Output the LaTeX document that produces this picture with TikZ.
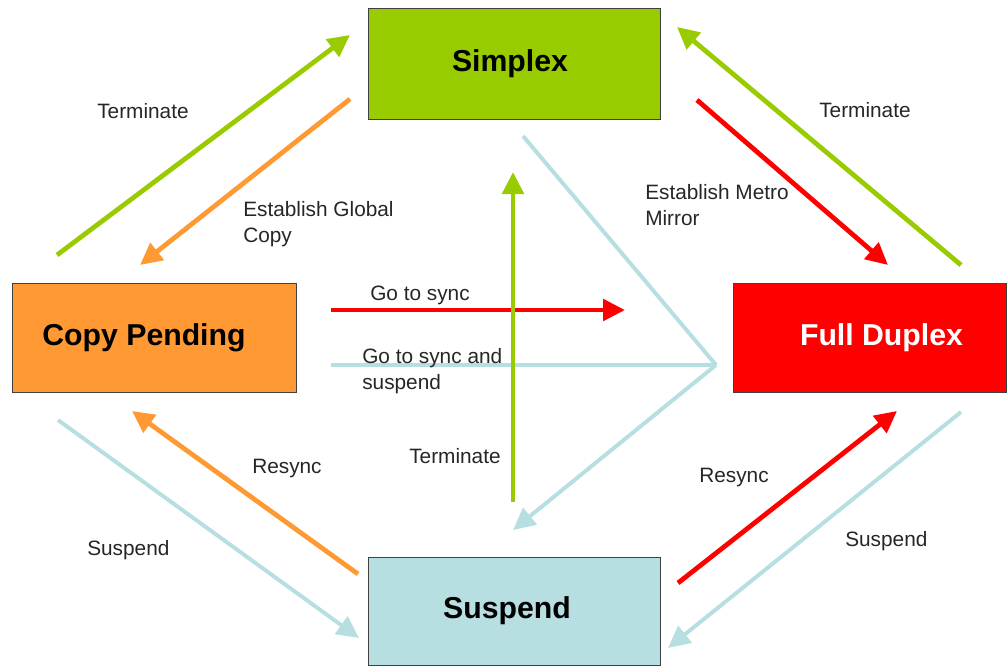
\documentclass[tikz,border=0pt]{standalone}
\usepackage{fontspec}
\setmainfont{Liberation Sans}
\usetikzlibrary{arrows.meta}

\definecolor{simplexgreen}{RGB}{153,204,0}
\definecolor{pendingorange}{RGB}{255,153,51}
\definecolor{duplexred}{RGB}{255,0,0}
\definecolor{suspendblue}{RGB}{183,222,224}

\begin{document}
\begin{tikzpicture}[
        x=0.25mm, y=-0.25mm,
        estado/.style={rectangle, draw=black!75, line width=0.6pt, font=\fontsize{21.5}{25}\selectfont\bfseries, inner sep=0pt},
        rotulo/.style={font=\fontsize{14.8}{18.4}\selectfont, inner sep=0pt, align=left, text=black!85},
        seta/.style={-{Triangle[length=5.5mm, width=5.3mm]}, line width=3.4pt},
        linha/.style={line width=2.8pt, suspendblue},
        seta_azul/.style={-{Triangle[length=5.5mm, width=5.3mm]}, line width=2.8pt, suspendblue}
    ]
    \useasboundingbox (0,0) rectangle (1008,666);

    % ESTADOS
    \node[estado, fill=simplexgreen, minimum width=73mm, minimum height=27.75mm] (simplex) at (514,63.5) {\hspace*{-2mm}Simplex};
    \node[estado, fill=pendingorange, minimum width=71mm, minimum height=27.25mm] (copy_pending) at (154,337.5) {\hspace*{-5mm}Copy Pending};
    \node[estado, fill=duplexred, text=white, minimum width=68.25mm, minimum height=27.25mm] (full_duplex) at (869.5,337.5) {\hspace*{6mm}Full Duplex};
    \node[estado, fill=suspendblue, minimum width=73mm, minimum height=27mm] (suspend) at (514,611) {\hspace*{-3.5mm}Suspend};

    % --- PONTAS DAS SETAS ---
    \coordinate (cp_term_a) at (57,255);   \coordinate (cp_term_b) at (350,35);
    \coordinate (cp_glob_a) at (350,99);   \coordinate (cp_glob_b) at (140,265);
    \coordinate (fd_term_a) at (961,265);  \coordinate (fd_term_b) at (677,27);
    \coordinate (fd_metro_a) at (697,100); \coordinate (fd_metro_b) at (888,265);
    \coordinate (sync_a) at (331,310);     \coordinate (sync_b) at (625,310);
    \coordinate (syncsus_a) at (331,365);  \coordinate (syncsus_s) at (523,136);
    \coordinate (juncao) at (716,365);     \coordinate (syncsus_b) at (513,530);
    \coordinate (su_term_a) at (513,502);  \coordinate (su_term_b) at (513,172);
    \coordinate (cp_res_a) at (358,574);   \coordinate (cp_res_b) at (132,411);
    \coordinate (cp_sus_a) at (58,420);    \coordinate (cp_sus_b) at (359,638);
    \coordinate (fd_res_a) at (678,583);   \coordinate (fd_res_b) at (897,411);
    \coordinate (fd_sus_a) at (961,412);   \coordinate (fd_sus_b) at (668,648);

    % --- CONECTORES ---
    \draw[seta, simplexgreen] (cp_term_a) -- (cp_term_b);
    \draw[seta, pendingorange] (cp_glob_a) -- (cp_glob_b);
    \draw[seta, simplexgreen] (fd_term_a) -- (fd_term_b);
    \draw[seta, duplexred] (fd_metro_a) -- (fd_metro_b);
    \draw[seta, duplexred] (sync_a) -- (sync_b);
    \draw[linha] (syncsus_s) -- (juncao);
    \draw[linha] (syncsus_a) -- (juncao);
    \draw[seta_azul] (juncao) -- (syncsus_b);
    \draw[seta, simplexgreen] (su_term_a) -- (su_term_b);
    \draw[seta, pendingorange] (cp_res_a) -- (cp_res_b);
    \draw[seta_azul] (cp_sus_a) -- (cp_sus_b);
    \draw[seta, duplexred] (fd_res_a) -- (fd_res_b);
    \draw[seta_azul] (fd_sus_a) -- (fd_sus_b);

    % --- ROTULOS ---
    \node[rotulo, anchor=base west] (l_term1) at (97,118) {Terminate};
    \node[rotulo, anchor=north west] (l_global) at (243,201) {Establish Global\\Copy};
    \node[rotulo, anchor=base west] (l_term2) at (819,117) {Terminate};
    \node[rotulo, anchor=north west] (l_metro) at (645,184) {Establish Metro\\Mirror};
    \node[rotulo, anchor=base west] (l_sync) at (370,300) {Go to sync};
    \node[rotulo, anchor=north west] (l_syncsus) at (362,348) {Go to sync and\\suspend};
    \node[rotulo, anchor=base west] (l_term3) at (409,463) {Terminate};
    \node[rotulo, anchor=base west] (l_res1) at (252,473) {Resync};
    \node[rotulo, anchor=base west] (l_sus1) at (87,555) {Suspend};
    \node[rotulo, anchor=base west] (l_res2) at (699,482) {Resync};
    \node[rotulo, anchor=base west] (l_sus2) at (845,546) {Suspend};

\end{tikzpicture}
\end{document}
